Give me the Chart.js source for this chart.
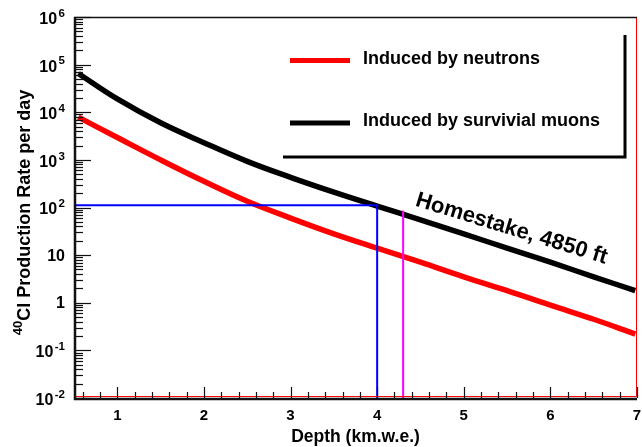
<!DOCTYPE html>
<html>
<head>
<meta charset="utf-8">
<script src="https://cdn.jsdelivr.net/npm/chart.js@4.4.1/dist/chart.umd.min.js"></script>
<style>
    body { margin: 0; background: #ffffff; }
    #wrap { width: 642px; height: 447px; }
</style>
</head>
<body>
<div id="wrap"><canvas id="chart_canvas" width="642" height="447"></canvas></div>
<script>
/*--------------------------------------------------------------------------------
----- 40Cl PRODUCTION RATE versus DEPTH (log scale)
--------------------------------------------------------------------------------*/

// Depth points (km.w.e.)
var depths = [0.55, 1, 1.5, 2, 2.5, 3, 3.5, 4, 4.5, 5, 5.5, 6, 6.5, 6.98];

// Production rate per day, induced by neutrons (red) and by surviving muons (black)
var neutron_rate = [7900, 2950, 1000, 355, 135, 60, 28, 14, 7.1, 3.5, 1.8, 0.89, 0.45, 0.22];
var muon_rate = [65000, 19000, 6000, 2300, 930, 430, 210, 107, 55, 28, 14, 7.1, 3.5, 1.8];

// Homestake markers
var blue_marker_x = [0.5, 4.0, 4.0];
var blue_marker_y = [112, 112, 0.01];
var magenta_marker_x = [4.3, 4.3];
var magenta_marker_y = [87, 0.01];

// Axis ticks
var x_major_ticks = [1, 2, 3, 4, 5, 6, 7];
var y_exponents = [-2, -1, 0, 1, 2, 3, 4, 5, 6];

// Legend and annotation
var legend_labels = ['Induced by neutrons', 'Induced by survivial muons'];
var legend_colors = ['#ff0000', '#000000'];
var homestake_label = 'Homestake, 4850 ft';
var homestake_pos = [4.43, 110];

function to_points(xs, ys) {
    return xs.map(function (x, i) { return { x: x, y: ys[i] }; });
}

var BOLD = 'bold ';
var FAMILY = 'px "Liberation Sans", Arial, Helvetica, sans-serif';

function seg(ctx, color, width, pts) {
    ctx.save();
    ctx.setLineDash([]);
    ctx.globalAlpha = 1;
    ctx.globalCompositeOperation = 'source-over';
    ctx.strokeStyle = color;
    ctx.lineWidth = width;
    ctx.lineCap = 'butt';
    ctx.beginPath();
    ctx.moveTo(pts[0], pts[1]);
    for (var i = 2; i < pts.length; i += 2) ctx.lineTo(pts[i], pts[i + 1]);
    ctx.stroke();
    ctx.restore();
}

// Draws the frame, inward ticks, labels, legend and annotation (ROOT style)
var root_style = {
    id: 'root_style',
    afterDraw: function (chart) {
        var ctx = chart.ctx;
        var area = chart.chartArea;
        var xs = chart.scales.x;
        var ys = chart.scales.y;
        var L = area.left, R = area.right, T = area.top, B = area.bottom;
        ctx.save();

        ctx.fillStyle = '#000000';

        // x labels
        ctx.font = BOLD + 15 + FAMILY;
        ctx.textAlign = 'center';
        ctx.textBaseline = 'middle';
        x_major_ticks.forEach(function (v) {
            ctx.fillText(String(v), xs.getPixelForValue(v), 416);
        });

        // x title
        ctx.font = BOLD + 17.5 + FAMILY;
        ctx.fillText('Depth (km.w.e.)', (L + R) / 2, 437);

        // y labels with superscripts
        y_exponents.forEach(function (e) {
            var py = ys.getPixelForValue(Math.pow(10, e));
            var right = 65;
            ctx.textBaseline = 'middle';
            ctx.textAlign = 'right';
            if (e === 0 || e === 1) {
                ctx.font = BOLD + 16 + FAMILY;
                ctx.fillText(e === 0 ? '1' : '10', right, py + 1);
                return;
            }
            var sup = String(e);
            ctx.font = BOLD + 11.5 + FAMILY;
            var sw = ctx.measureText(sup).width;
            ctx.fillText(sup, right, py - 3.5);
            ctx.font = BOLD + 16 + FAMILY;
            ctx.fillText('10', right - sw - 1.5, py + 2.5);
        });

        // y title rotated, with superscript 40
        ctx.save();
        ctx.translate(23, (T + B) / 2 + 5);
        ctx.rotate(-Math.PI / 2);
        ctx.textAlign = 'left';
        ctx.textBaseline = 'alphabetic';
        ctx.font = BOLD + 13 + FAMILY;
        var supw = ctx.measureText('40').width;
        ctx.font = BOLD + 18 + FAMILY;
        var mainText = 'Cl Production Rate per day';
        var mw = ctx.measureText(mainText).width;
        var start = -(supw + mw) / 2;
        ctx.font = BOLD + 13 + FAMILY;
        ctx.fillText('40', start, -1);
        ctx.font = BOLD + 18 + FAMILY;
        ctx.fillText(mainText, start + supw, 6.5);
        ctx.restore();

        // legend shadow
        seg(ctx, '#000000', 3, [283, 157, 625, 157, 625, 35]);

        // legend entries
        var rows = [60.5, 123];
        legend_labels.forEach(function (label, i) {
            seg(ctx, legend_colors[i], 5, [290, rows[i], 350, rows[i]]);
            ctx.fillStyle = '#000000';
            ctx.font = BOLD + 18 + FAMILY;
            ctx.textAlign = 'left';
            ctx.textBaseline = 'middle';
            ctx.fillText(label, 363, rows[i] - 1.5);
        });

        // Homestake annotation along the muon curve
        ctx.save();
        ctx.translate(xs.getPixelForValue(homestake_pos[0]), ys.getPixelForValue(homestake_pos[1]));
        ctx.rotate(17 * Math.PI / 180);
        ctx.font = BOLD + 22 + FAMILY;
        ctx.textAlign = 'left';
        ctx.textBaseline = 'alphabetic';
        ctx.fillText(homestake_label, 0, 0);
        ctx.restore();

        // red frame on the right / bottom, black top
        seg(ctx, '#ff0000', 1, [L, B - 1.5, R - 0.5, B - 1.5, R - 0.5, T]);
        seg(ctx, '#111111', 1.5, [L, T + 0.5, R, T + 0.5]);

        // x ticks pointing up
        for (var t = 6; t <= 70; t += 2) {
            var px = Math.round(xs.getPixelForValue(t / 10)) + 0.5;
            var len = (t % 10 === 0) ? 11 : 6;
            seg(ctx, '#111111', 1.2, [px, B, px, B - len]);
        }

        // y ticks pointing right (log, with minors 2..9)
        for (var e = -2; e <= 6; e++) {
            var py = Math.round(ys.getPixelForValue(Math.pow(10, e))) + 0.5;
            seg(ctx, '#111111', 1.2, [L, py, L + 17, py]);
            if (e < 6) {
                for (var m = 2; m <= 9; m++) {
                    var pm = Math.round(ys.getPixelForValue(m * Math.pow(10, e))) + 0.5;
                    seg(ctx, '#111111', 1.2, [L, pm, L + 9, pm]);
                }
            }
        }

        // black axes
        seg(ctx, '#111111', 2.5, [L + 1, T, L + 1, B + 1, R, B + 1]);

        ctx.restore();
    }
};

var context = document.getElementById('chart_canvas').getContext('2d');

var line_chart = new Chart(context, {
    type: 'line',
    data: {
        datasets: [{
            label: 'Homestake depth',
            data: to_points(blue_marker_x, blue_marker_y),
            borderColor: '#0000ff',
            borderWidth: 2,
            pointRadius: 0,
            tension: 0
        }, {
            label: 'Homestake 4850 ft',
            data: to_points(magenta_marker_x, magenta_marker_y),
            borderColor: '#ff00ff',
            borderWidth: 2,
            pointRadius: 0,
            tension: 0
        }, {
            label: legend_labels[0],
            data: to_points(depths, neutron_rate),
            borderColor: '#ff0000',
            borderWidth: 5.5,
            pointRadius: 0,
            tension: 0.4
        }, {
            label: legend_labels[1],
            data: to_points(depths, muon_rate),
            borderColor: '#000000',
            borderWidth: 5.5,
            pointRadius: 0,
            tension: 0.4
        }]
    },
    options: {
        responsive: false,
        animation: false,
        events: [],
        layout: {
            padding: { left: 74, right: 5, top: 17, bottom: 49 }
        },
        plugins: {
            legend: { display: false },
            tooltip: { enabled: false }
        },
        scales: {
            x: {
                type: 'linear',
                min: 0.5,
                max: 7,
                display: false
            },
            y: {
                type: 'logarithmic',
                min: 0.01,
                max: 1e6,
                display: false
            }
        }
    },
    plugins: [root_style]
});
</script>
</body>
</html>
